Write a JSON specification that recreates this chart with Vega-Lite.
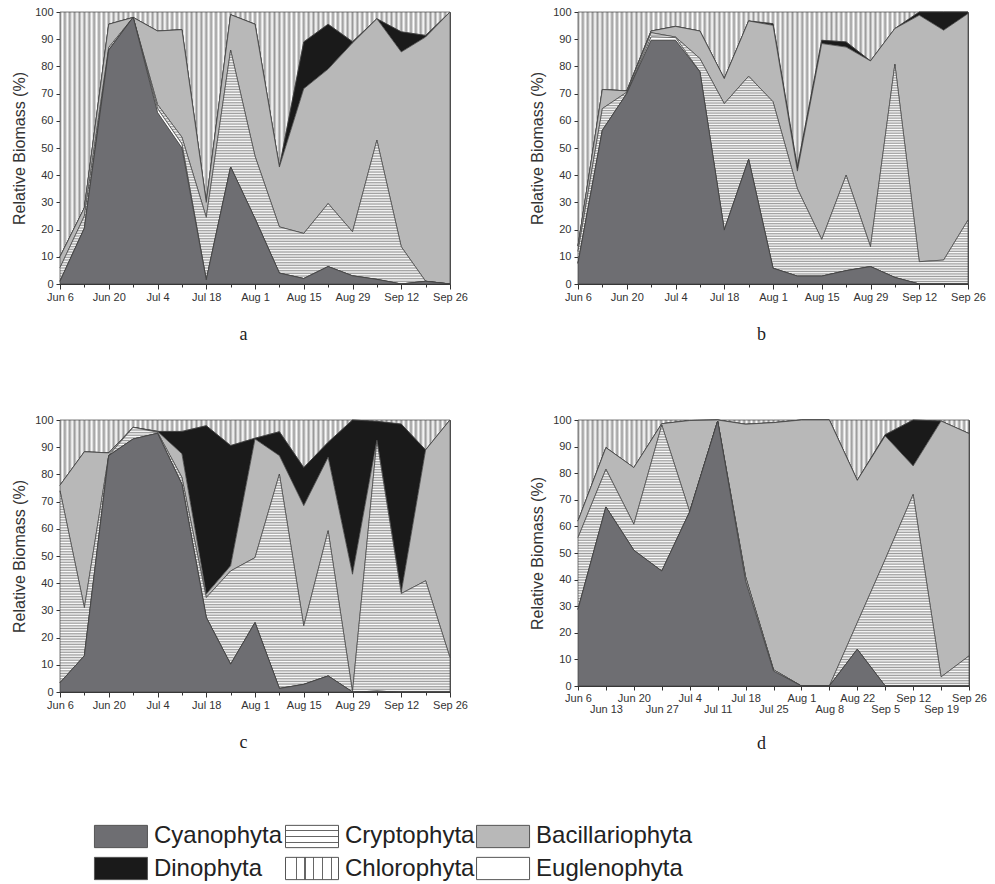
{
"$schema": "https://vega.github.io/schema/vega-lite/v6.json",
"padding": {"left": 11, "top": 5, "right": 5, "bottom": 5},
"background": "white",
"params": [
{"name": "gCr", "value": {"gradient": "linear", "x1": 0, "y1": 0, "x2": 0, "y2": 1, "stops": [
{"offset":0,"color":"#999"},{"offset":0.005,"color":"#fff"},{"offset":0.01,"color":"#999"},{"offset":0.015,"color":"#fff"},{"offset":0.02,"color":"#999"},{"offset":0.025,"color":"#fff"},{"offset":0.03,"color":"#999"},{"offset":0.035,"color":"#fff"},{"offset":0.04,"color":"#999"},{"offset":0.045,"color":"#fff"},{"offset":0.05,"color":"#999"},{"offset":0.055,"color":"#fff"},{"offset":0.06,"color":"#999"},{"offset":0.065,"color":"#fff"},{"offset":0.07,"color":"#999"},{"offset":0.075,"color":"#fff"},{"offset":0.08,"color":"#999"},{"offset":0.085,"color":"#fff"},{"offset":0.09,"color":"#999"},{"offset":0.095,"color":"#fff"},
{"offset":0.1,"color":"#999"},{"offset":0.105,"color":"#fff"},{"offset":0.11,"color":"#999"},{"offset":0.115,"color":"#fff"},{"offset":0.12,"color":"#999"},{"offset":0.125,"color":"#fff"},{"offset":0.13,"color":"#999"},{"offset":0.135,"color":"#fff"},{"offset":0.14,"color":"#999"},{"offset":0.145,"color":"#fff"},{"offset":0.15,"color":"#999"},{"offset":0.155,"color":"#fff"},{"offset":0.16,"color":"#999"},{"offset":0.165,"color":"#fff"},{"offset":0.17,"color":"#999"},{"offset":0.175,"color":"#fff"},{"offset":0.18,"color":"#999"},{"offset":0.185,"color":"#fff"},{"offset":0.19,"color":"#999"},{"offset":0.195,"color":"#fff"},
{"offset":0.2,"color":"#999"},{"offset":0.205,"color":"#fff"},{"offset":0.21,"color":"#999"},{"offset":0.215,"color":"#fff"},{"offset":0.22,"color":"#999"},{"offset":0.225,"color":"#fff"},{"offset":0.23,"color":"#999"},{"offset":0.235,"color":"#fff"},{"offset":0.24,"color":"#999"},{"offset":0.245,"color":"#fff"},{"offset":0.25,"color":"#999"},{"offset":0.255,"color":"#fff"},{"offset":0.26,"color":"#999"},{"offset":0.265,"color":"#fff"},{"offset":0.27,"color":"#999"},{"offset":0.275,"color":"#fff"},{"offset":0.28,"color":"#999"},{"offset":0.285,"color":"#fff"},{"offset":0.29,"color":"#999"},{"offset":0.295,"color":"#fff"},
{"offset":0.3,"color":"#999"},{"offset":0.305,"color":"#fff"},{"offset":0.31,"color":"#999"},{"offset":0.315,"color":"#fff"},{"offset":0.32,"color":"#999"},{"offset":0.325,"color":"#fff"},{"offset":0.33,"color":"#999"},{"offset":0.335,"color":"#fff"},{"offset":0.34,"color":"#999"},{"offset":0.345,"color":"#fff"},{"offset":0.35,"color":"#999"},{"offset":0.355,"color":"#fff"},{"offset":0.36,"color":"#999"},{"offset":0.365,"color":"#fff"},{"offset":0.37,"color":"#999"},{"offset":0.375,"color":"#fff"},{"offset":0.38,"color":"#999"},{"offset":0.385,"color":"#fff"},{"offset":0.39,"color":"#999"},{"offset":0.395,"color":"#fff"},
{"offset":0.4,"color":"#999"},{"offset":0.405,"color":"#fff"},{"offset":0.41,"color":"#999"},{"offset":0.415,"color":"#fff"},{"offset":0.42,"color":"#999"},{"offset":0.425,"color":"#fff"},{"offset":0.43,"color":"#999"},{"offset":0.435,"color":"#fff"},{"offset":0.44,"color":"#999"},{"offset":0.445,"color":"#fff"},{"offset":0.45,"color":"#999"},{"offset":0.455,"color":"#fff"},{"offset":0.46,"color":"#999"},{"offset":0.465,"color":"#fff"},{"offset":0.47,"color":"#999"},{"offset":0.475,"color":"#fff"},{"offset":0.48,"color":"#999"},{"offset":0.485,"color":"#fff"},{"offset":0.49,"color":"#999"},{"offset":0.495,"color":"#fff"},
{"offset":0.5,"color":"#999"},{"offset":0.505,"color":"#fff"},{"offset":0.51,"color":"#999"},{"offset":0.515,"color":"#fff"},{"offset":0.52,"color":"#999"},{"offset":0.525,"color":"#fff"},{"offset":0.53,"color":"#999"},{"offset":0.535,"color":"#fff"},{"offset":0.54,"color":"#999"},{"offset":0.545,"color":"#fff"},{"offset":0.55,"color":"#999"},{"offset":0.555,"color":"#fff"},{"offset":0.56,"color":"#999"},{"offset":0.565,"color":"#fff"},{"offset":0.57,"color":"#999"},{"offset":0.575,"color":"#fff"},{"offset":0.58,"color":"#999"},{"offset":0.585,"color":"#fff"},{"offset":0.59,"color":"#999"},{"offset":0.595,"color":"#fff"},
{"offset":0.6,"color":"#999"},{"offset":0.605,"color":"#fff"},{"offset":0.61,"color":"#999"},{"offset":0.615,"color":"#fff"},{"offset":0.62,"color":"#999"},{"offset":0.625,"color":"#fff"},{"offset":0.63,"color":"#999"},{"offset":0.635,"color":"#fff"},{"offset":0.64,"color":"#999"},{"offset":0.645,"color":"#fff"},{"offset":0.65,"color":"#999"},{"offset":0.655,"color":"#fff"},{"offset":0.66,"color":"#999"},{"offset":0.665,"color":"#fff"},{"offset":0.67,"color":"#999"},{"offset":0.675,"color":"#fff"},{"offset":0.68,"color":"#999"},{"offset":0.685,"color":"#fff"},{"offset":0.69,"color":"#999"},{"offset":0.695,"color":"#fff"},
{"offset":0.7,"color":"#999"},{"offset":0.705,"color":"#fff"},{"offset":0.71,"color":"#999"},{"offset":0.715,"color":"#fff"},{"offset":0.72,"color":"#999"},{"offset":0.725,"color":"#fff"},{"offset":0.73,"color":"#999"},{"offset":0.735,"color":"#fff"},{"offset":0.74,"color":"#999"},{"offset":0.745,"color":"#fff"},{"offset":0.75,"color":"#999"},{"offset":0.755,"color":"#fff"},{"offset":0.76,"color":"#999"},{"offset":0.765,"color":"#fff"},{"offset":0.77,"color":"#999"},{"offset":0.775,"color":"#fff"},{"offset":0.78,"color":"#999"},{"offset":0.785,"color":"#fff"},{"offset":0.79,"color":"#999"},{"offset":0.795,"color":"#fff"},
{"offset":0.8,"color":"#999"},{"offset":0.805,"color":"#fff"},{"offset":0.81,"color":"#999"},{"offset":0.815,"color":"#fff"},{"offset":0.82,"color":"#999"},{"offset":0.825,"color":"#fff"},{"offset":0.83,"color":"#999"},{"offset":0.835,"color":"#fff"},{"offset":0.84,"color":"#999"},{"offset":0.845,"color":"#fff"},{"offset":0.85,"color":"#999"},{"offset":0.855,"color":"#fff"},{"offset":0.86,"color":"#999"},{"offset":0.865,"color":"#fff"},{"offset":0.87,"color":"#999"},{"offset":0.875,"color":"#fff"},{"offset":0.88,"color":"#999"},{"offset":0.885,"color":"#fff"},{"offset":0.89,"color":"#999"},{"offset":0.895,"color":"#fff"},
{"offset":0.9,"color":"#999"},{"offset":0.905,"color":"#fff"},{"offset":0.91,"color":"#999"},{"offset":0.915,"color":"#fff"},{"offset":0.92,"color":"#999"},{"offset":0.925,"color":"#fff"},{"offset":0.93,"color":"#999"},{"offset":0.935,"color":"#fff"},{"offset":0.94,"color":"#999"},{"offset":0.945,"color":"#fff"},{"offset":0.95,"color":"#999"},{"offset":0.955,"color":"#fff"},{"offset":0.96,"color":"#999"},{"offset":0.965,"color":"#fff"},{"offset":0.97,"color":"#999"},{"offset":0.975,"color":"#fff"},{"offset":0.98,"color":"#999"},{"offset":0.985,"color":"#fff"},{"offset":0.99,"color":"#999"},{"offset":0.995,"color":"#fff"},
{"offset":1,"color":"#999"}]}},
{"name": "gCh", "value": {"gradient": "linear", "x1": 0, "y1": 0, "x2": 1, "y2": 0, "stops": [
{"offset":0,"color":"#999"},{"offset":0.00625,"color":"#fff"},{"offset":0.0125,"color":"#999"},{"offset":0.01875,"color":"#fff"},{"offset":0.025,"color":"#999"},{"offset":0.03125,"color":"#fff"},{"offset":0.0375,"color":"#999"},{"offset":0.04375,"color":"#fff"},{"offset":0.05,"color":"#999"},{"offset":0.05625,"color":"#fff"},{"offset":0.0625,"color":"#999"},{"offset":0.06875,"color":"#fff"},{"offset":0.075,"color":"#999"},{"offset":0.08125,"color":"#fff"},{"offset":0.0875,"color":"#999"},{"offset":0.09375,"color":"#fff"},
{"offset":0.1,"color":"#999"},{"offset":0.10625,"color":"#fff"},{"offset":0.1125,"color":"#999"},{"offset":0.11875,"color":"#fff"},{"offset":0.125,"color":"#999"},{"offset":0.13125,"color":"#fff"},{"offset":0.1375,"color":"#999"},{"offset":0.14375,"color":"#fff"},{"offset":0.15,"color":"#999"},{"offset":0.15625,"color":"#fff"},{"offset":0.1625,"color":"#999"},{"offset":0.16875,"color":"#fff"},{"offset":0.175,"color":"#999"},{"offset":0.18125,"color":"#fff"},{"offset":0.1875,"color":"#999"},{"offset":0.19375,"color":"#fff"},
{"offset":0.2,"color":"#999"},{"offset":0.20625,"color":"#fff"},{"offset":0.2125,"color":"#999"},{"offset":0.21875,"color":"#fff"},{"offset":0.225,"color":"#999"},{"offset":0.23125,"color":"#fff"},{"offset":0.2375,"color":"#999"},{"offset":0.24375,"color":"#fff"},{"offset":0.25,"color":"#999"},{"offset":0.25625,"color":"#fff"},{"offset":0.2625,"color":"#999"},{"offset":0.26875,"color":"#fff"},{"offset":0.275,"color":"#999"},{"offset":0.28125,"color":"#fff"},{"offset":0.2875,"color":"#999"},{"offset":0.29375,"color":"#fff"},
{"offset":0.3,"color":"#999"},{"offset":0.30625,"color":"#fff"},{"offset":0.3125,"color":"#999"},{"offset":0.31875,"color":"#fff"},{"offset":0.325,"color":"#999"},{"offset":0.33125,"color":"#fff"},{"offset":0.3375,"color":"#999"},{"offset":0.34375,"color":"#fff"},{"offset":0.35,"color":"#999"},{"offset":0.35625,"color":"#fff"},{"offset":0.3625,"color":"#999"},{"offset":0.36875,"color":"#fff"},{"offset":0.375,"color":"#999"},{"offset":0.38125,"color":"#fff"},{"offset":0.3875,"color":"#999"},{"offset":0.39375,"color":"#fff"},
{"offset":0.4,"color":"#999"},{"offset":0.40625,"color":"#fff"},{"offset":0.4125,"color":"#999"},{"offset":0.41875,"color":"#fff"},{"offset":0.425,"color":"#999"},{"offset":0.43125,"color":"#fff"},{"offset":0.4375,"color":"#999"},{"offset":0.44375,"color":"#fff"},{"offset":0.45,"color":"#999"},{"offset":0.45625,"color":"#fff"},{"offset":0.4625,"color":"#999"},{"offset":0.46875,"color":"#fff"},{"offset":0.475,"color":"#999"},{"offset":0.48125,"color":"#fff"},{"offset":0.4875,"color":"#999"},{"offset":0.49375,"color":"#fff"},
{"offset":0.5,"color":"#999"},{"offset":0.50625,"color":"#fff"},{"offset":0.5125,"color":"#999"},{"offset":0.51875,"color":"#fff"},{"offset":0.525,"color":"#999"},{"offset":0.53125,"color":"#fff"},{"offset":0.5375,"color":"#999"},{"offset":0.54375,"color":"#fff"},{"offset":0.55,"color":"#999"},{"offset":0.55625,"color":"#fff"},{"offset":0.5625,"color":"#999"},{"offset":0.56875,"color":"#fff"},{"offset":0.575,"color":"#999"},{"offset":0.58125,"color":"#fff"},{"offset":0.5875,"color":"#999"},{"offset":0.59375,"color":"#fff"},
{"offset":0.6,"color":"#999"},{"offset":0.60625,"color":"#fff"},{"offset":0.6125,"color":"#999"},{"offset":0.61875,"color":"#fff"},{"offset":0.625,"color":"#999"},{"offset":0.63125,"color":"#fff"},{"offset":0.6375,"color":"#999"},{"offset":0.64375,"color":"#fff"},{"offset":0.65,"color":"#999"},{"offset":0.65625,"color":"#fff"},{"offset":0.6625,"color":"#999"},{"offset":0.66875,"color":"#fff"},{"offset":0.675,"color":"#999"},{"offset":0.68125,"color":"#fff"},{"offset":0.6875,"color":"#999"},{"offset":0.69375,"color":"#fff"},
{"offset":0.7,"color":"#999"},{"offset":0.70625,"color":"#fff"},{"offset":0.7125,"color":"#999"},{"offset":0.71875,"color":"#fff"},{"offset":0.725,"color":"#999"},{"offset":0.73125,"color":"#fff"},{"offset":0.7375,"color":"#999"},{"offset":0.74375,"color":"#fff"},{"offset":0.75,"color":"#999"},{"offset":0.75625,"color":"#fff"},{"offset":0.7625,"color":"#999"},{"offset":0.76875,"color":"#fff"},{"offset":0.775,"color":"#999"},{"offset":0.78125,"color":"#fff"},{"offset":0.7875,"color":"#999"},{"offset":0.79375,"color":"#fff"},
{"offset":0.8,"color":"#999"},{"offset":0.80625,"color":"#fff"},{"offset":0.8125,"color":"#999"},{"offset":0.81875,"color":"#fff"},{"offset":0.825,"color":"#999"},{"offset":0.83125,"color":"#fff"},{"offset":0.8375,"color":"#999"},{"offset":0.84375,"color":"#fff"},{"offset":0.85,"color":"#999"},{"offset":0.85625,"color":"#fff"},{"offset":0.8625,"color":"#999"},{"offset":0.86875,"color":"#fff"},{"offset":0.875,"color":"#999"},{"offset":0.88125,"color":"#fff"},{"offset":0.8875,"color":"#999"},{"offset":0.89375,"color":"#fff"},
{"offset":0.9,"color":"#999"},{"offset":0.90625,"color":"#fff"},{"offset":0.9125,"color":"#999"},{"offset":0.91875,"color":"#fff"},{"offset":0.925,"color":"#999"},{"offset":0.93125,"color":"#fff"},{"offset":0.9375,"color":"#999"},{"offset":0.94375,"color":"#fff"},{"offset":0.95,"color":"#999"},{"offset":0.95625,"color":"#fff"},{"offset":0.9625,"color":"#999"},{"offset":0.96875,"color":"#fff"},{"offset":0.975,"color":"#999"},{"offset":0.98125,"color":"#fff"},{"offset":0.9875,"color":"#999"},{"offset":0.99375,"color":"#fff"},
{"offset":1,"color":"#999"}]}}
],
"datasets": {
"A": [
{"d":"Jun 6","Cy":1,"Eu":0,"Cr":5,"Ba":4,"Di":0,"Ch":90},
{"d":"Jun 13","Cy":20.5,"Eu":0,"Cr":4.5,"Ba":3,"Di":0,"Ch":72},
{"d":"Jun 20","Cy":86,"Eu":0,"Cr":1,"Ba":8.5,"Di":0,"Ch":4.5},
{"d":"Jun 27","Cy":98,"Eu":0,"Cr":0,"Ba":0,"Di":0,"Ch":2},
{"d":"Jul 4","Cy":63,"Eu":1.5,"Cr":1.5,"Ba":27,"Di":0,"Ch":7},
{"d":"Jul 11","Cy":50,"Eu":1.5,"Cr":2.5,"Ba":39.5,"Di":0,"Ch":6.5},
{"d":"Jul 18","Cy":1.5,"Eu":0,"Cr":23,"Ba":5.5,"Di":0,"Ch":70},
{"d":"Jul 25","Cy":43,"Eu":0,"Cr":43,"Ba":13,"Di":0,"Ch":1},
{"d":"Aug 1","Cy":24,"Eu":0,"Cr":23,"Ba":48.5,"Di":0,"Ch":4.5},
{"d":"Aug 8","Cy":4,"Eu":0,"Cr":17,"Ba":22,"Di":0,"Ch":57},
{"d":"Aug 15","Cy":2,"Eu":0,"Cr":16.6,"Ba":53.2,"Di":17.2,"Ch":11},
{"d":"Aug 22","Cy":6.4,"Eu":0,"Cr":23.2,"Ba":49.4,"Di":16.5,"Ch":4.5},
{"d":"Aug 29","Cy":3,"Eu":0,"Cr":16.2,"Ba":69.4,"Di":0.5,"Ch":10.9},
{"d":"Sep 5","Cy":1.7,"Eu":0,"Cr":51.2,"Ba":44.6,"Di":0,"Ch":2.5},
{"d":"Sep 12","Cy":0,"Eu":0,"Cr":13.7,"Ba":71.6,"Di":7.4,"Ch":7.3},
{"d":"Sep 19","Cy":1,"Eu":0,"Cr":0,"Ba":89.8,"Di":0.6,"Ch":8.6},
{"d":"Sep 26","Cy":0,"Eu":0,"Cr":0,"Ba":100,"Di":0,"Ch":0}
],
"B": [
{"d":"Jun 6","Cy":7.6,"Eu":0,"Cr":4.4,"Ba":2,"Di":0,"Ch":86},
{"d":"Jun 13","Cy":56.5,"Eu":0,"Cr":8,"Ba":7,"Di":0,"Ch":28.5},
{"d":"Jun 20","Cy":70,"Eu":0,"Cr":0.5,"Ba":0.5,"Di":0,"Ch":29},
{"d":"Jun 27","Cy":89.6,"Eu":1.2,"Cr":1.6,"Ba":0.6,"Di":0,"Ch":7},
{"d":"Jul 4","Cy":89.6,"Eu":1,"Cr":0.2,"Ba":3.9,"Di":0,"Ch":5.3},
{"d":"Jul 11","Cy":78,"Eu":0,"Cr":4.9,"Ba":10.1,"Di":0,"Ch":7},
{"d":"Jul 18","Cy":19.8,"Eu":0,"Cr":46.5,"Ba":9.2,"Di":0,"Ch":24.5},
{"d":"Jul 25","Cy":45.8,"Eu":0,"Cr":30.6,"Ba":20.3,"Di":0,"Ch":3.3},
{"d":"Aug 1","Cy":5.8,"Eu":0,"Cr":61.2,"Ba":28.1,"Di":0.6,"Ch":4.3},
{"d":"Aug 8","Cy":2.9,"Eu":0,"Cr":32.1,"Ba":6.5,"Di":1.5,"Ch":57},
{"d":"Aug 15","Cy":2.9,"Eu":0,"Cr":13.5,"Ba":72,"Di":1.2,"Ch":10.4},
{"d":"Aug 22","Cy":4.9,"Eu":0,"Cr":35.1,"Ba":47.1,"Di":1.9,"Ch":11},
{"d":"Aug 29","Cy":6.4,"Eu":0,"Cr":7.3,"Ba":68.3,"Di":0,"Ch":18},
{"d":"Sep 5","Cy":2.4,"Eu":0,"Cr":78.4,"Ba":13.1,"Di":0,"Ch":6.1},
{"d":"Sep 12","Cy":0,"Eu":0,"Cr":8.2,"Ba":90.6,"Di":1.2,"Ch":0},
{"d":"Sep 19","Cy":0,"Eu":0,"Cr":8.8,"Ba":84.5,"Di":6.7,"Ch":0},
{"d":"Sep 26","Cy":0,"Eu":0,"Cr":23.5,"Ba":75.9,"Di":0.6,"Ch":0}
],
"C": [
{"d":"Jun 6","Cy":3.4,"Eu":0,"Cr":70.6,"Ba":2,"Di":0,"Ch":24},
{"d":"Jun 13","Cy":13.3,"Eu":0,"Cr":17.7,"Ba":57.3,"Di":0,"Ch":11.7},
{"d":"Jun 20","Cy":86.9,"Eu":0,"Cr":0.1,"Ba":0.9,"Di":0,"Ch":12.1},
{"d":"Jun 27","Cy":93,"Eu":0,"Cr":4.3,"Ba":0,"Di":0,"Ch":2.7},
{"d":"Jul 4","Cy":95.1,"Eu":0,"Cr":0.4,"Ba":0.3,"Di":0,"Ch":4.2},
{"d":"Jul 11","Cy":76.4,"Eu":0,"Cr":2.5,"Ba":8.7,"Di":8.2,"Ch":4.2},
{"d":"Jul 18","Cy":27.4,"Eu":0,"Cr":7.3,"Ba":1.3,"Di":61.9,"Ch":2.1},
{"d":"Jul 25","Cy":10.2,"Eu":0,"Cr":34.3,"Ba":1.9,"Di":44.2,"Ch":9.4},
{"d":"Aug 1","Cy":25.5,"Eu":0,"Cr":23.9,"Ba":43.6,"Di":0.3,"Ch":6.7},
{"d":"Aug 8","Cy":1.3,"Eu":0,"Cr":78.8,"Ba":6.8,"Di":8.8,"Ch":4.3},
{"d":"Aug 15","Cy":2.8,"Eu":0,"Cr":21.5,"Ba":44.2,"Di":14,"Ch":17.5},
{"d":"Aug 22","Cy":5.9,"Eu":0,"Cr":53.4,"Ba":27,"Di":5.5,"Ch":8.2},
{"d":"Aug 29","Cy":0,"Eu":0,"Cr":0,"Ba":43.3,"Di":56.7,"Ch":0},
{"d":"Sep 5","Cy":0.3,"Eu":0,"Cr":92.1,"Ba":0.2,"Di":6.9,"Ch":0.5},
{"d":"Sep 12","Cy":0,"Eu":0,"Cr":36.2,"Ba":0.4,"Di":61.9,"Ch":1.5},
{"d":"Sep 19","Cy":0,"Eu":0,"Cr":40.9,"Ba":48.1,"Di":0,"Ch":11},
{"d":"Sep 26","Cy":0,"Eu":0,"Cr":12.6,"Ba":87.4,"Di":0,"Ch":0}
],
"D": [
{"d":"Jun 6","Cy":28.8,"Eu":0,"Cr":27,"Ba":6.2,"Di":0,"Ch":38},
{"d":"Jun 13","Cy":67.3,"Eu":0,"Cr":14.2,"Ba":8.1,"Di":0,"Ch":10.4},
{"d":"Jun 20","Cy":51,"Eu":0,"Cr":9.8,"Ba":21.3,"Di":0,"Ch":17.9},
{"d":"Jun 27","Cy":43.2,"Eu":0,"Cr":54.9,"Ba":0.5,"Di":0,"Ch":1.4},
{"d":"Jul 4","Cy":65.5,"Eu":0,"Cr":0,"Ba":34.3,"Di":0,"Ch":0.2},
{"d":"Jul 11","Cy":99.6,"Eu":0,"Cr":0,"Ba":0.4,"Di":0,"Ch":0},
{"d":"Jul 18","Cy":39.5,"Eu":1.5,"Cr":0,"Ba":57.4,"Di":0,"Ch":1.6},
{"d":"Jul 25","Cy":5.6,"Eu":0.5,"Cr":0,"Ba":92.9,"Di":0,"Ch":1},
{"d":"Aug 1","Cy":0,"Eu":0,"Cr":0,"Ba":100,"Di":0,"Ch":0},
{"d":"Aug 8","Cy":0,"Eu":0,"Cr":0,"Ba":100,"Di":0,"Ch":0},
{"d":"Aug 22","Cy":13.8,"Eu":0,"Cr":10,"Ba":53.5,"Di":0,"Ch":22.7},
{"d":"Sep 5","Cy":0,"Eu":0,"Cr":47.6,"Ba":46.4,"Di":0.5,"Ch":5.5},
{"d":"Sep 12","Cy":0,"Eu":0,"Cr":72,"Ba":10.7,"Di":17.3,"Ch":0},
{"d":"Sep 19","Cy":0,"Eu":0,"Cr":3.4,"Ba":96.2,"Di":0,"Ch":0.4},
{"d":"Sep 26","Cy":0,"Eu":0,"Cr":11.3,"Ba":83.6,"Di":0,"Ch":5.1}
]
},
"config": {
"font": "Liberation Sans",
"view": {"stroke": "#555", "strokeWidth": 1},
"axis": {"domainColor": "#333", "tickColor": "#333", "labelColor": "#333", "labelFont": "Liberation Sans", "labelFontSize": 11, "titleColor": "#222", "grid": false, "labelPadding": 2},
"axisY": {"tickSize": 4, "labelPadding": 3, "titleFontSize": 16, "titleFontWeight": "normal", "titleFont": "Liberation Sans", "titlePadding": 7, "titleColor": "#333"},
"axisX": {"titleFont": "Liberation Serif", "titleFontSize": 18, "titleFontWeight": "normal", "titlePadding": 23, "titleX": 183}
},
"spacing": 69,
"vconcat": [
{"hconcat": [
{"width": 390, "height": 272, "data": {"name": "A"},
 "transform": [{"fold": ["Cy","Eu","Cr","Ba","Di","Ch"], "as": ["s","v"]}, {"stack": "v", "groupby": ["d"], "as": ["y0","y1"]}],
 "encoding": {
  "x": {"field": "d", "type": "ordinal", "scale": {"type": "point", "padding": 0, "domain": ["Jun 6","Jun 13","Jun 20","Jun 27","Jul 4","Jul 11","Jul 18","Jul 25","Aug 1","Aug 8","Aug 15","Aug 22","Aug 29","Sep 5","Sep 12","Sep 19","Sep 26"]},
   "axis": {"title": "a", "labelAngle": 0, "labelOverlap": false, "labelFlush": false, "labelExpr": "(datum.value=='Jun 6'||datum.value=='Jun 20'||datum.value=='Jul 4'||datum.value=='Jul 18'||datum.value=='Aug 1'||datum.value=='Aug 15'||datum.value=='Aug 29'||datum.value=='Sep 12'||datum.value=='Sep 26') ? datum.value : ''", "tickSize": {"condition": {"test": "datum.value=='Jun 6'||datum.value=='Jun 20'||datum.value=='Jul 4'||datum.value=='Jul 18'||datum.value=='Aug 1'||datum.value=='Aug 15'||datum.value=='Aug 29'||datum.value=='Sep 12'||datum.value=='Sep 26'", "value": 5}, "value": 3}}},
  "y": {"field": "y1", "type": "quantitative", "scale": {"domain": [0, 100]}, "axis": {"title": "Relative Biomass (%)", "values": [0,10,20,30,40,50,60,70,80,90,100]}},
  "y2": {"field": "y0"}
 },
 "layer": [
  {"transform": [{"filter": "datum.s === 'Ch'"}], "mark": {"type": "area", "fill": {"expr": "gCh"}, "stroke": "#404040", "strokeWidth": 0.7}, "encoding": {}},
  {"transform": [{"filter": "datum.s === 'Di'"}], "mark": {"type": "area", "fill": "#1a1a1a", "stroke": "#404040", "strokeWidth": 0.7}, "encoding": {}},
  {"transform": [{"filter": "datum.s === 'Ba'"}], "mark": {"type": "area", "fill": "#b8b8b8", "stroke": "#404040", "strokeWidth": 0.7}, "encoding": {}},
  {"transform": [{"filter": "datum.s === 'Cr'"}], "mark": {"type": "area", "fill": {"expr": "gCr"}, "stroke": "#404040", "strokeWidth": 0.7}, "encoding": {}},
  {"transform": [{"filter": "datum.s === 'Eu'"}], "mark": {"type": "area", "fill": "#ffffff", "stroke": "#404040", "strokeWidth": 0.7}, "encoding": {}},
  {"transform": [{"filter": "datum.s === 'Cy'"}], "mark": {"type": "area", "fill": "#6e6e72", "stroke": "#404040", "strokeWidth": 0.7}, "encoding": {}}
 ]
},
{"width": 390, "height": 272, "data": {"name": "B"},
 "transform": [{"fold": ["Cy","Eu","Cr","Ba","Di","Ch"], "as": ["s","v"]}, {"stack": "v", "groupby": ["d"], "as": ["y0","y1"]}],
 "encoding": {
  "x": {"field": "d", "type": "ordinal", "scale": {"type": "point", "padding": 0, "domain": ["Jun 6","Jun 13","Jun 20","Jun 27","Jul 4","Jul 11","Jul 18","Jul 25","Aug 1","Aug 8","Aug 15","Aug 22","Aug 29","Sep 5","Sep 12","Sep 19","Sep 26"]},
   "axis": {"title": "b", "labelAngle": 0, "labelOverlap": false, "labelFlush": false, "labelExpr": "(datum.value=='Jun 6'||datum.value=='Jun 20'||datum.value=='Jul 4'||datum.value=='Jul 18'||datum.value=='Aug 1'||datum.value=='Aug 15'||datum.value=='Aug 29'||datum.value=='Sep 12'||datum.value=='Sep 26') ? datum.value : ''", "tickSize": {"condition": {"test": "datum.value=='Jun 6'||datum.value=='Jun 20'||datum.value=='Jul 4'||datum.value=='Jul 18'||datum.value=='Aug 1'||datum.value=='Aug 15'||datum.value=='Aug 29'||datum.value=='Sep 12'||datum.value=='Sep 26'", "value": 5}, "value": 3}}},
  "y": {"field": "y1", "type": "quantitative", "scale": {"domain": [0, 100]}, "axis": {"title": "Relative Biomass (%)", "values": [0,10,20,30,40,50,60,70,80,90,100]}},
  "y2": {"field": "y0"}
 },
 "layer": [
  {"transform": [{"filter": "datum.s === 'Ch'"}], "mark": {"type": "area", "fill": {"expr": "gCh"}, "stroke": "#404040", "strokeWidth": 0.7}, "encoding": {}},
  {"transform": [{"filter": "datum.s === 'Di'"}], "mark": {"type": "area", "fill": "#1a1a1a", "stroke": "#404040", "strokeWidth": 0.7}, "encoding": {}},
  {"transform": [{"filter": "datum.s === 'Ba'"}], "mark": {"type": "area", "fill": "#b8b8b8", "stroke": "#404040", "strokeWidth": 0.7}, "encoding": {}},
  {"transform": [{"filter": "datum.s === 'Cr'"}], "mark": {"type": "area", "fill": {"expr": "gCr"}, "stroke": "#404040", "strokeWidth": 0.7}, "encoding": {}},
  {"transform": [{"filter": "datum.s === 'Eu'"}], "mark": {"type": "area", "fill": "#ffffff", "stroke": "#404040", "strokeWidth": 0.7}, "encoding": {}},
  {"transform": [{"filter": "datum.s === 'Cy'"}], "mark": {"type": "area", "fill": "#6e6e72", "stroke": "#404040", "strokeWidth": 0.7}, "encoding": {}}
 ]
}
], "spacing": 61},
{"hconcat": [
{"width": 390, "height": 272, "data": {"name": "C"},
 "transform": [{"fold": ["Cy","Eu","Cr","Ba","Di","Ch"], "as": ["s","v"]}, {"stack": "v", "groupby": ["d"], "as": ["y0","y1"]}],
 "encoding": {
  "x": {"field": "d", "type": "ordinal", "scale": {"type": "point", "padding": 0, "domain": ["Jun 6","Jun 13","Jun 20","Jun 27","Jul 4","Jul 11","Jul 18","Jul 25","Aug 1","Aug 8","Aug 15","Aug 22","Aug 29","Sep 5","Sep 12","Sep 19","Sep 26"]},
   "axis": {"title": "c", "labelAngle": 0, "labelOverlap": false, "labelFlush": false, "labelExpr": "(datum.value=='Jun 6'||datum.value=='Jun 20'||datum.value=='Jul 4'||datum.value=='Jul 18'||datum.value=='Aug 1'||datum.value=='Aug 15'||datum.value=='Aug 29'||datum.value=='Sep 12'||datum.value=='Sep 26') ? datum.value : ''", "tickSize": {"condition": {"test": "datum.value=='Jun 6'||datum.value=='Jun 20'||datum.value=='Jul 4'||datum.value=='Jul 18'||datum.value=='Aug 1'||datum.value=='Aug 15'||datum.value=='Aug 29'||datum.value=='Sep 12'||datum.value=='Sep 26'", "value": 5}, "value": 3}}},
  "y": {"field": "y1", "type": "quantitative", "scale": {"domain": [0, 100]}, "axis": {"title": "Relative Biomass (%)", "values": [0,10,20,30,40,50,60,70,80,90,100]}},
  "y2": {"field": "y0"}
 },
 "layer": [
  {"transform": [{"filter": "datum.s === 'Ch'"}], "mark": {"type": "area", "fill": {"expr": "gCh"}, "stroke": "#404040", "strokeWidth": 0.7}, "encoding": {}},
  {"transform": [{"filter": "datum.s === 'Di'"}], "mark": {"type": "area", "fill": "#1a1a1a", "stroke": "#404040", "strokeWidth": 0.7}, "encoding": {}},
  {"transform": [{"filter": "datum.s === 'Ba'"}], "mark": {"type": "area", "fill": "#b8b8b8", "stroke": "#404040", "strokeWidth": 0.7}, "encoding": {}},
  {"transform": [{"filter": "datum.s === 'Cr'"}], "mark": {"type": "area", "fill": {"expr": "gCr"}, "stroke": "#404040", "strokeWidth": 0.7}, "encoding": {}},
  {"transform": [{"filter": "datum.s === 'Eu'"}], "mark": {"type": "area", "fill": "#ffffff", "stroke": "#404040", "strokeWidth": 0.7}, "encoding": {}},
  {"transform": [{"filter": "datum.s === 'Cy'"}], "mark": {"type": "area", "fill": "#6e6e72", "stroke": "#404040", "strokeWidth": 0.7}, "encoding": {}}
 ]
},
{"width": 391, "height": 266, "data": {"name": "D"},
 "transform": [{"fold": ["Cy","Eu","Cr","Ba","Di","Ch"], "as": ["s","v"]}, {"stack": "v", "groupby": ["d"], "as": ["y0","y1"]}],
 "encoding": {
  "x": {"field": "d", "type": "ordinal", "scale": {"type": "point", "padding": 0, "domain": ["Jun 6","Jun 13","Jun 20","Jun 27","Jul 4","Jul 11","Jul 18","Jul 25","Aug 1","Aug 8","Aug 22","Sep 5","Sep 12","Sep 19","Sep 26"]},
   "axis": {"title": "d", "titlePadding": 20, "labelAngle": 0, "labelOverlap": false, "labelFlush": false, "tickSize": 4, "labelLineHeight": 11, "labelExpr": "(datum.value=='Jun 13'||datum.value=='Jun 27'||datum.value=='Jul 11'||datum.value=='Jul 25'||datum.value=='Aug 8'||datum.value=='Sep 5'||datum.value=='Sep 19') ? ['', datum.value] : datum.value"}},
  "y": {"field": "y1", "type": "quantitative", "scale": {"domain": [0, 100]}, "axis": {"title": "Relative Biomass (%)", "values": [0,10,20,30,40,50,60,70,80,90,100]}},
  "y2": {"field": "y0"}
 },
 "layer": [
  {"transform": [{"filter": "datum.s === 'Ch'"}], "mark": {"type": "area", "fill": {"expr": "gCh"}, "stroke": "#404040", "strokeWidth": 0.7}, "encoding": {}},
  {"transform": [{"filter": "datum.s === 'Di'"}], "mark": {"type": "area", "fill": "#1a1a1a", "stroke": "#404040", "strokeWidth": 0.7}, "encoding": {}},
  {"transform": [{"filter": "datum.s === 'Ba'"}], "mark": {"type": "area", "fill": "#b8b8b8", "stroke": "#404040", "strokeWidth": 0.7}, "encoding": {}},
  {"transform": [{"filter": "datum.s === 'Cr'"}], "mark": {"type": "area", "fill": {"expr": "gCr"}, "stroke": "#404040", "strokeWidth": 0.7}, "encoding": {}},
  {"transform": [{"filter": "datum.s === 'Eu'"}], "mark": {"type": "area", "fill": "#ffffff", "stroke": "#404040", "strokeWidth": 0.7}, "encoding": {}},
  {"transform": [{"filter": "datum.s === 'Cy'"}], "mark": {"type": "area", "fill": "#6e6e72", "stroke": "#404040", "strokeWidth": 0.7}, "encoding": {}}
 ]
}
], "spacing": 61},
{"width": 504, "height": 61, "view": {"stroke": null},
 "data": {"values": [
  {"n": "Cyanophyta", "c": 1, "r": 1}, {"n": "Cryptophyta", "c": 2, "r": 1}, {"n": "Bacillariophyta", "c": 3, "r": 1},
  {"n": "Dinophyta", "c": 1, "r": 2}, {"n": "Chlorophyta", "c": 2, "r": 2}, {"n": "Euglenophyta", "c": 3, "r": 2}]},
 "encoding": {
  "x": {"field": "c", "type": "ordinal", "axis": null, "scale": {"type": "point", "padding": 0.319}},
  "y": {"field": "r", "type": "ordinal", "axis": null, "scale": {"type": "point", "padding": 0.453}}
 },
 "layer": [
  {"transform": [{"filter": "datum.n === 'Cyanophyta'"}], "mark": {"type": "point", "filled": true, "shape": "M-1,-0.42H1V0.42H-1Z", "size": 2809, "fill": "#6e6e72", "stroke": "#555", "strokeWidth": 1, "opacity": 1}},
  {"transform": [{"filter": "datum.n === 'Dinophyta'"}], "mark": {"type": "point", "filled": true, "shape": "M-1,-0.42H1V0.42H-1Z", "size": 2809, "fill": "#1a1a1a", "stroke": "#555", "strokeWidth": 1, "opacity": 1}},
  {"transform": [{"filter": "datum.n === 'Bacillariophyta'"}], "mark": {"type": "point", "filled": true, "shape": "M-1,-0.42H1V0.42H-1Z", "size": 2809, "fill": "#b8b8b8", "stroke": "#555", "strokeWidth": 1, "opacity": 1}},
  {"transform": [{"filter": "datum.n === 'Euglenophyta'"}], "mark": {"type": "point", "filled": true, "shape": "M-1,-0.42H1V0.42H-1Z", "size": 2809, "fill": "#ffffff", "stroke": "#555", "strokeWidth": 1, "opacity": 1}},
  {"transform": [{"filter": "datum.n === 'Cryptophyta'"}], "mark": {"type": "point", "filled": true, "shape": "M-1,-0.42H1V0.42H-1Z", "size": 2809, "stroke": "#555", "strokeWidth": 1, "opacity": 1,
   "fill": {"gradient": "linear", "x1": 0, "y1": 0, "x2": 0, "y2": 1, "stops": [
    {"offset": 0, "color": "#fff"}, {"offset": 0.22, "color": "#fff"}, {"offset": 0.22, "color": "#666"}, {"offset": 0.27, "color": "#666"}, {"offset": 0.27, "color": "#fff"},
    {"offset": 0.48, "color": "#fff"}, {"offset": 0.48, "color": "#666"}, {"offset": 0.53, "color": "#666"}, {"offset": 0.53, "color": "#fff"},
    {"offset": 0.74, "color": "#fff"}, {"offset": 0.74, "color": "#666"}, {"offset": 0.79, "color": "#666"}, {"offset": 0.79, "color": "#fff"}, {"offset": 1, "color": "#fff"}]}}},
  {"transform": [{"filter": "datum.n === 'Chlorophyta'"}], "mark": {"type": "point", "filled": true, "shape": "M-1,-0.42H1V0.42H-1Z", "size": 2809, "stroke": "#555", "strokeWidth": 1, "opacity": 1,
   "fill": {"gradient": "linear", "x1": 0, "y1": 0, "x2": 1, "y2": 0, "stops": [
    {"offset": 0, "color": "#fff"}, {"offset": 0.19, "color": "#fff"}, {"offset": 0.19, "color": "#666"}, {"offset": 0.215, "color": "#666"}, {"offset": 0.215, "color": "#fff"},
    {"offset": 0.355, "color": "#fff"}, {"offset": 0.355, "color": "#666"}, {"offset": 0.38, "color": "#666"}, {"offset": 0.38, "color": "#fff"},
    {"offset": 0.52, "color": "#fff"}, {"offset": 0.52, "color": "#666"}, {"offset": 0.545, "color": "#666"}, {"offset": 0.545, "color": "#fff"},
    {"offset": 0.685, "color": "#fff"}, {"offset": 0.685, "color": "#666"}, {"offset": 0.71, "color": "#666"}, {"offset": 0.71, "color": "#fff"},
    {"offset": 0.85, "color": "#fff"}, {"offset": 0.85, "color": "#666"}, {"offset": 0.875, "color": "#666"}, {"offset": 0.875, "color": "#fff"}, {"offset": 1, "color": "#fff"}]}}},
  {"mark": {"type": "text", "align": "left", "baseline": "middle", "dx": 33, "fontSize": 24, "color": "#222", "font": "Liberation Sans"}, "encoding": {"text": {"field": "n"}}}
 ]
}
]
}
